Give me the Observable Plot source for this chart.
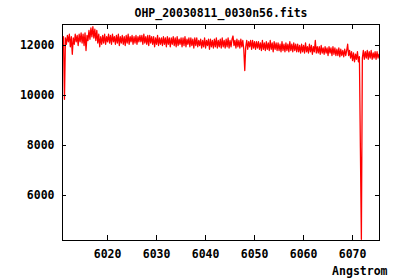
<!DOCTYPE html>
<html>
<head>
<meta charset="utf-8">
<script src="https://cdn.jsdelivr.net/npm/d3@7"></script>
<script src="https://cdn.jsdelivr.net/npm/@observablehq/plot@0.6"></script>
<style>
  html, body { margin: 0; padding: 0; background: #fff; }
</style>
</head>
<body>
<div id="chart"></div>
<script>
const title = "OHP_20030811_0030n56.fits";
const xLabel = "Angstrom";
const xTicks = [6020, 6030, 6040, 6050, 6060, 6070];
const yTicks = [6000, 8000, 10000, 12000];
const lambdaStart = 6010.8;
const lambdaStep = 0.2;
const flux = [
  12150, 12350, 9850, 12300, 12050, 12400, 12150, 12450, 11950, 12350, 11650, 12300, 12050, 12450, 12150, 12400, 12000, 12450, 12150, 12500,
  12100, 12450, 12000, 12500, 11800, 12400, 12200, 12600, 12250, 12700, 12350, 12750, 12300, 12650, 12200, 12600, 12100, 12450, 11950, 12350,
  12050, 12400, 12100, 12450, 12050, 12350, 12150, 12450, 12100, 12400, 12050, 12450, 12150, 12350, 12050, 12400, 12100, 12450, 12000, 12350,
  12100, 12400, 12050, 12350, 12000, 12400, 12100, 12450, 12050, 12350, 12150, 12400, 12050, 12350, 12100, 12400, 12050, 12350, 12150, 12400,
  12150, 12400, 12050, 12450, 12100, 12350, 12050, 12400, 12000, 12400, 12100, 12350, 12050, 12350, 11950, 12300, 12050, 12400, 12000, 12300,
  12050, 12300, 12000, 12350, 12050, 12300, 11950, 12350, 12050, 12300, 11950, 12300, 12050, 12350, 12000, 12300, 11950, 12350, 12000, 12250,
  12050, 12300, 11950, 12300, 12000, 12350, 11950, 12250, 12050, 12300, 11950, 12300, 12000, 12250, 11900, 12300, 12000, 12300, 11950, 12200,
  12000, 12250, 11900, 12200, 11950, 12300, 11900, 12200, 12000, 12250, 11850, 12250, 11950, 12200, 11900, 12250, 11950, 12300, 11900, 12200,
  11950, 12250, 11900, 12300, 11950, 12200, 11900, 12250, 11950, 12300, 11900, 12200, 11950, 12250, 12380, 12000, 12200, 11900, 12250, 11950,
  12200, 11900, 12250, 11950, 12200, 11850, 11000, 11950, 12200, 11850, 12150, 11950, 12200, 11850, 12200, 11900, 12150, 11850, 12150, 11900,
  12150, 11850, 12100, 11800, 12200, 11850, 12100, 11800, 12150, 11850, 12100, 11800, 12200, 11850, 12100, 11750, 12150, 11850, 12100, 11800,
  12100, 11800, 12050, 11750, 12150, 11800, 12050, 11750, 12100, 11800, 12050, 11750, 12150, 11800, 12050, 11750, 12100, 11800, 12050, 11750,
  12050, 11750, 12000, 11700, 12050, 11750, 12000, 11700, 12100, 11750, 11950, 11700, 12050, 11750, 12000, 11650, 11950, 11750, 12200, 11700,
  11950, 11700, 11950, 11650, 12000, 11700, 11900, 11650, 11950, 11700, 11900, 11600, 11950, 11700, 11900, 11600, 11950, 11650, 11900, 11600,
  11850, 11600, 11900, 11550, 11850, 11600, 11800, 11550, 11850, 11600, 11800, 12050, 11600, 11800, 11500, 11750, 11400, 11700, 11350, 11650,
  11450, 11750, 11350, 11550, 7900, 4250, 11500, 11800, 11450, 11750, 11500, 11800, 11450, 11750, 11500, 11800, 11450, 11700, 11500, 11750,
  11450, 11750, 11500, 11650
];

const data = flux.map((f, i) => ({lambda: lambdaStart + i * lambdaStep, flux: f}));

const W = 400, H = 280;
const mL = 62, mR = 21, mT = 24, mB = 40;
const innerW = W - mL - mR, innerH = H - mT - mB;
const tickLenX = 5, tickLenY = 4;

const chart = Plot.plot({
  width: W,
  height: H,
  marginLeft: mL,
  marginRight: mR,
  marginTop: mT,
  marginBottom: mB,
  style: {
    fontFamily: "'DejaVu Sans Mono', monospace",
    fontWeight: "bold",
    fontSize: "11.5px",
    background: "#fff",
    color: "#000"
  },
  x: {domain: [6010.8, 6075.5], label: null},
  y: {domain: [4200, 12840], label: null},
  marks: [
    Plot.line(data, {x: "lambda", y: "flux", stroke: "#ff0000", strokeWidth: 1.3, clip: true}),
    Plot.tickX(xTicks, {x: d => d, stroke: "#000", insetTop: innerH - tickLenX, shapeRendering: "crispEdges"}),
    Plot.tickX(xTicks, {x: d => d, stroke: "#000", insetBottom: innerH - tickLenX, shapeRendering: "crispEdges"}),
    Plot.tickY(yTicks, {y: d => d, stroke: "#000", insetRight: innerW - tickLenY, shapeRendering: "crispEdges"}),
    Plot.tickY(yTicks, {y: d => d, stroke: "#000", insetLeft: innerW - tickLenY, shapeRendering: "crispEdges"}),
    Plot.axisX({ticks: xTicks, tickSize: 0, tickPadding: 9, tickFormat: d => String(d), label: null}),
    Plot.axisY({ticks: yTicks, tickSize: 0, tickPadding: 8, tickFormat: d => String(d), label: null}),
    Plot.frame({stroke: "#000", strokeWidth: 1, shapeRendering: "crispEdges"}),
    Plot.text([title], {frameAnchor: "top", lineAnchor: "middle", text: d => d, dy: -11, fill: "#000", fontWeight: "bold"}),
    Plot.text([xLabel], {frameAnchor: "bottom-right", lineAnchor: "middle", text: d => d, dx: 8, dy: 31, textAnchor: "end", fill: "#000", fontWeight: "bold"})
  ]
});

document.getElementById("chart").appendChild(chart);
</script>
</body>
</html>
